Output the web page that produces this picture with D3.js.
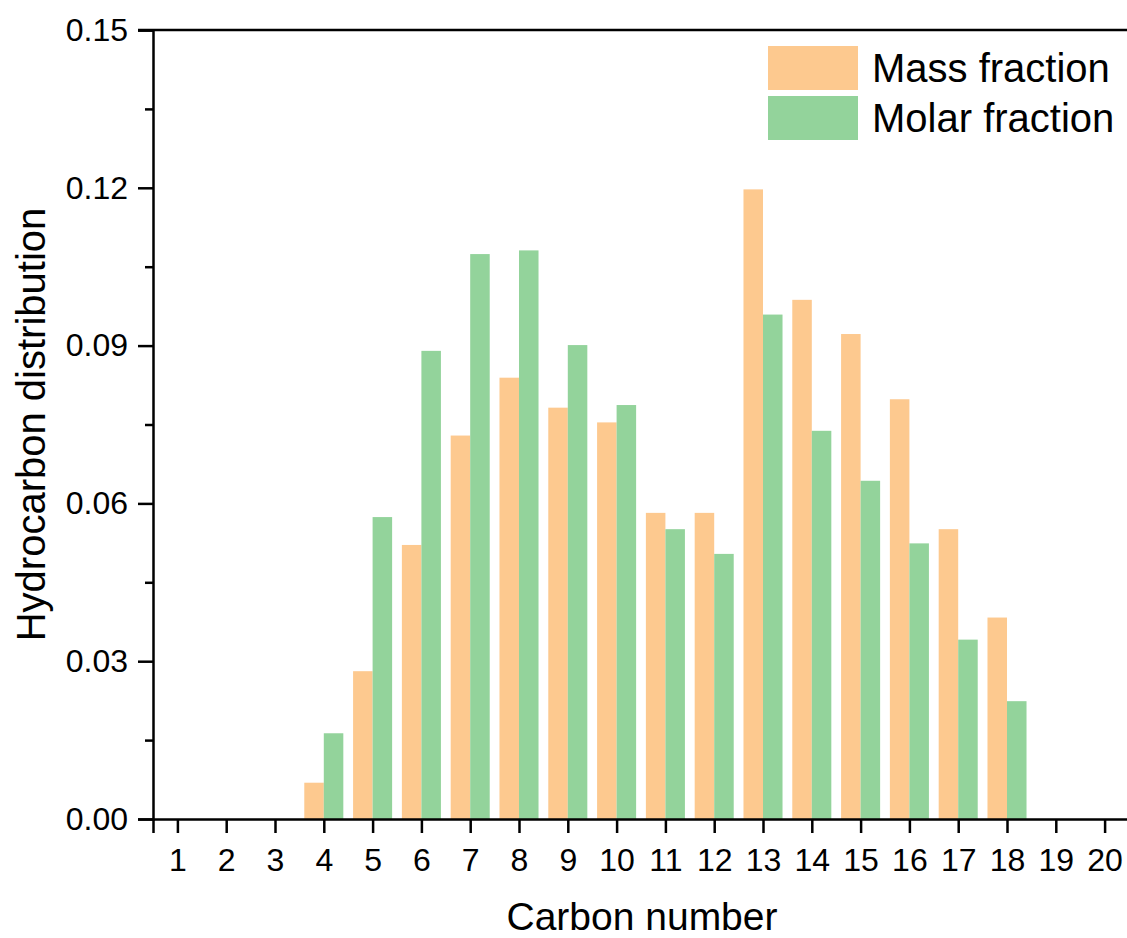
<!DOCTYPE html>
<html>
<head>
<meta charset="utf-8">
<script src="https://cdn.jsdelivr.net/npm/d3@7"></script>
<style>
  body { margin: 0; background: #fff; }
  svg text { font-family: "Liberation Sans", Arial, sans-serif; fill: #000; }
</style>
</head>
<body>
<svg id="chart" width="1127" height="938"></svg>
<script>
// carbon numbers on the x axis
const carbon = d3.range(1, 21)
// values (0 where no bar)
const massFraction = [0, 0, 0, 0.0069, 0.0281, 0.0521, 0.0729, 0.0839, 0.0782, 0.0754,
  0.0582, 0.0582, 0.1197, 0.0987, 0.0922, 0.0798, 0.0551, 0.0383, 0, 0]
const molarFraction = [0, 0, 0, 0.0163, 0.0574, 0.089, 0.1074, 0.1081, 0.0901, 0.0787,
  0.0551, 0.0504, 0.0959, 0.0738, 0.0643, 0.0524, 0.0341, 0.0224, 0, 0]
const yTicks = [0, 0.03, 0.06, 0.09, 0.12, 0.15]
const seriesNames = ['Mass fraction', 'Molar fraction']
const colors = ['#fdc98f', '#93d39b']

let svg = d3.select('#chart')

let x = d3.scaleLinear().domain([0.5, 20.5]).range([153, 1129])
let y = d3.scaleLinear().domain([0, 0.15]).range([819, 30])

// bars: mass on the left of the tick, molar on the right
let bars = svg.append('g').attr('class', 'bars')
bars.selectAll('rect.mass')
  .data(carbon.filter((d, i) => massFraction[i] > 0))
  .enter().append('rect')
    .attr('class', 'mass')
    .attr('x', d => x(d - 0.4))
    .attr('width', d => x(d) - x(d - 0.4))
    .attr('y', d => y(massFraction[d - 1]))
    .attr('height', d => y(0) - y(massFraction[d - 1]))
    .style('fill', colors[0])

bars.selectAll('rect.molar')
  .data(carbon.filter((d, i) => molarFraction[i] > 0))
  .enter().append('rect')
    .attr('class', 'molar')
    .attr('x', d => x(d))
    .attr('width', d => x(d + 0.4) - x(d))
    .attr('y', d => y(molarFraction[d - 1]))
    .attr('height', d => y(0) - y(molarFraction[d - 1]))
    .style('fill', colors[1])

// y axis with minor ticks
let yAxis = svg.append('g')
  .attr('transform', `translate(${ x(0.5) },0)`)
  .call(d3.axisLeft(y).tickValues(yTicks).tickFormat(d3.format('.2f')).tickSize(15).tickPadding(10))
yAxis.selectAll('text').style('font-size', '32px')

svg.append('g')
  .attr('transform', `translate(${ x(0.5) },0)`)
  .call(d3.axisLeft(y).tickValues(d3.range(0.015, 0.15, 0.03)).tickFormat('').tickSize(8))
  .call(g => g.select('.domain').remove())

// x axis
let xAxis = svg.append('g')
  .attr('transform', `translate(0,${ y(0) })`)
  .call(d3.axisBottom(x).tickValues(carbon).tickFormat(d3.format('d')).tickSize(14).tickPadding(15))
xAxis.selectAll('text').style('font-size', '32px')

// top frame line
svg.append('line')
  .attr('x1', x(0.5) - 15).attr('x2', 1127)
  .attr('y1', y(0.15)).attr('y2', y(0.15))
  .style('stroke', '#000').style('stroke-width', 2.5)

svg.selectAll('.domain, .tick line')
  .style('stroke', '#000').style('stroke-width', 2.5)

// axis titles
svg.append('text')
  .attr('x', 642).attr('y', 930)
  .attr('text-anchor', 'middle')
  .style('font-size', '39px')
  .text('Carbon number')

svg.append('text')
  .attr('transform', `translate(45, ${ y(0.075) }) rotate(-90)`)
  .attr('text-anchor', 'middle')
  .style('font-size', '40px')
  .text('Hydrocarbon distribution')

// legend
let legend = svg.append('g').attr('class', 'legend')
  .selectAll('g').data(seriesNames)
  .enter().append('g')
    .attr('transform', (d, i) => `translate(768, ${ 46 + i * 50 })`)
legend.append('rect')
  .attr('width', 90).attr('height', 44)
  .style('fill', (d, i) => colors[i])
legend.append('text')
  .attr('x', 104).attr('y', 36)
  .style('font-size', '40px')
  .text(d => d)
</script>
</body>
</html>
